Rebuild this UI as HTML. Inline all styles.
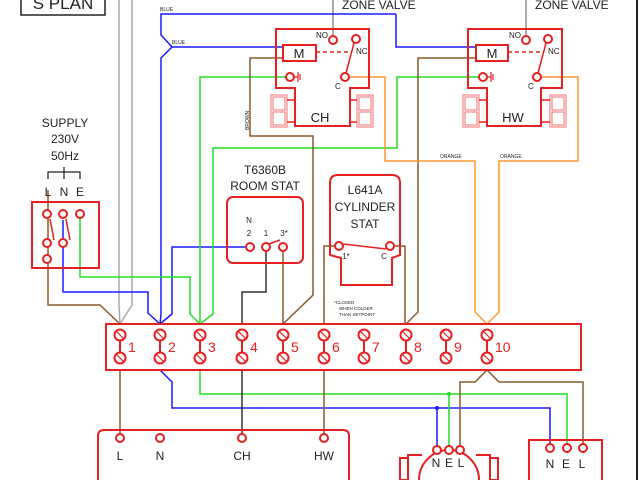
<!DOCTYPE html>
<html><head><meta charset="utf-8"><style>
html,body{margin:0;padding:0;background:#fff;width:640px;height:480px;overflow:hidden;}
svg{display:block;font-family:"Liberation Sans",Arial,sans-serif;}
</style></head><body>
<svg width="640" height="480" viewBox="0 0 640 480" xmlns="http://www.w3.org/2000/svg" overflow="hidden">
<defs>
<g id="t"><line x1="0" y1="335" x2="0" y2="358"/><circle cx="0" cy="335" r="5.5"/><circle cx="0" cy="358" r="5.5"/><line x1="-4" y1="331" x2="4" y2="339" stroke-width="1.2"/><line x1="-4" y1="354" x2="4" y2="362" stroke-width="1.2"/></g>
</defs>
<rect width="640" height="480" fill="#fff"/>
<line x1="637" y1="0" x2="637" y2="480" stroke="#222" stroke-width="2"/>
<rect x="21" y="-10" width="84" height="25" fill="none" stroke="#222" stroke-width="1.5"/>
<text x="63" y="9" font-size="17" text-anchor="middle" fill="#222">S PLAN</text>

<g fill="none" stroke-width="1.5">
<polyline points="119,0 119,305 120,324" stroke="#aaa"/>
<polyline points="132,0 132,305 120,324" stroke="#aaa"/>
<line x1="333" y1="0" x2="333" y2="36" stroke="#aaa" stroke-width="2"/>
<line x1="526" y1="0" x2="526" y2="36" stroke="#aaa" stroke-width="2"/>
<polyline points="396,14 161,14 161,35 172,47 161,58 161,314 160,324" stroke="#1a1aff"/>
<line x1="172" y1="47" x2="283" y2="47" stroke="#1a1aff"/>
<polyline points="396,14 396,47 476,47" stroke="#1a1aff"/>
<polyline points="250,247 172,247 172,314 160,324" stroke="#1a1aff"/>
<polyline points="63,220 63,292 148,292 148,313 160,324" stroke="#1a1aff"/>
<polyline points="160,370 172,382 172,408 550,408 550,444" stroke="#1a1aff"/>
<line x1="437" y1="408" x2="437" y2="446" stroke="#1a1aff"/>
<polyline points="287,77 200,77 200,324" stroke="#22dd22"/>
<polyline points="480,77 397,77 397,148 213,148 213,314 200,324" stroke="#22dd22"/>
<polyline points="80,218 80,277 190,277 190,314 200,324" stroke="#22dd22"/>
<polyline points="200,370 200,394 567,394 567,444" stroke="#22dd22"/>
<line x1="449" y1="394" x2="449" y2="446" stroke="#22dd22"/>
<polyline points="283,58 250,58 250,136 313,136 313,295 283,324" stroke="#8b5a2b"/>
<polyline points="476,58 418,58 418,312 406,324" stroke="#8b5a2b"/>
<polyline points="283,251 283,324" stroke="#8b5a2b"/>
<polyline points="338,246 324,246 324,434" stroke="#8b5a2b"/>
<polyline points="390,246 405,246 405,324" stroke="#8b5a2b"/>
<polyline points="48,190 48,305 100,305 120,324" stroke="#8b5a2b"/>
<line x1="120" y1="370" x2="120" y2="434" stroke="#8b5a2b"/>
<polyline points="487,370 475,382 460,382 460,446" stroke="#8b5a2b"/>
<polyline points="487,370 499,382 583,382 583,444" stroke="#8b5a2b"/>
<polyline points="266,251 266,292 242,292 242,434" stroke="#333"/>
<polyline points="349,77 385,77 385,161 475,161 475,312 487,324" stroke="#ff9933"/>
<polyline points="541,77 578,77 578,161 499,161 499,312 487,324" stroke="#ff9933"/>
</g>
<circle cx="437" cy="408" r="2" fill="#1a1aff"/>
<circle cx="449" cy="394" r="2" fill="#22dd22"/>
<g font-size="5" fill="#222">
<text x="160" y="11">BLUE</text><text x="172" y="44">BLUE</text>
<text x="440" y="158">ORANGE</text><text x="500" y="158">ORANGE</text>
<text x="249" y="130" transform="rotate(-90 249 130)">BROWN</text>
</g>

<g fill="none" stroke="#e62020" stroke-width="2">
<polygon points="276,29 369,29 369,88 350,88 350,126 295,126 295,88 276,88"/>
<rect x="283" y="45" width="33" height="16" fill="#fff"/>
<line x1="316" y1="52" x2="350" y2="52" stroke-dasharray="4,3" stroke-width="1.5"/>
<circle cx="333" cy="40" r="4"/><circle cx="356" cy="39" r="4"/><circle cx="345" cy="77" r="4"/>
<line x1="346" y1="73" x2="354" y2="43" stroke-width="1.5"/>
<circle cx="290" cy="77" r="4"/>
<polygon points="468,29 562,29 562,88 541,88 541,126 487,126 487,88 468,88"/>
<rect x="476" y="45" width="32" height="16" fill="#fff"/>
<line x1="508" y1="52" x2="543" y2="52" stroke-dasharray="4,3" stroke-width="1.5"/>
<circle cx="526" cy="40" r="4"/><circle cx="548" cy="39" r="4"/><circle cx="537" cy="77" r="4"/>
<line x1="538" y1="73" x2="546" y2="43" stroke-width="1.5"/>
<circle cx="483" cy="77" r="4"/>
</g>
<g stroke="#e62020" stroke-width="1.2" fill="none">
<line x1="294" y1="77" x2="298" y2="77"/><line x1="298" y1="72" x2="298" y2="82"/><line x1="300" y1="74" x2="300" y2="80"/>
<line x1="487" y1="77" x2="491" y2="77"/><line x1="491" y1="72" x2="491" y2="82"/><line x1="493" y1="74" x2="493" y2="80"/>
</g>
<g stroke="#f07070" stroke-width="1" fill="none">
<rect x="271" y="95" width="16" height="32"/><rect x="273" y="97" width="12" height="13"/><rect x="273" y="112" width="12" height="13"/>
<rect x="357" y="95" width="16" height="32"/><rect x="359" y="97" width="12" height="13"/><rect x="359" y="112" width="12" height="13"/>
<rect x="463" y="95" width="16" height="32"/><rect x="465" y="97" width="12" height="13"/><rect x="465" y="112" width="12" height="13"/>
<rect x="550" y="95" width="16" height="32"/><rect x="552" y="97" width="12" height="13"/><rect x="552" y="112" width="12" height="13"/>
</g>
<g stroke="#e62020" stroke-width="1.5"><line x1="287" y1="100" x2="295" y2="100"/><line x1="287" y1="122" x2="295" y2="122"/>
<line x1="350" y1="100" x2="357" y2="100"/><line x1="350" y1="122" x2="357" y2="122"/>
<line x1="479" y1="100" x2="487" y2="100"/><line x1="479" y1="122" x2="487" y2="122"/>
<line x1="541" y1="100" x2="550" y2="100"/><line x1="541" y1="122" x2="550" y2="122"/></g>
<g fill="#222">
<text x="299" y="58" font-size="13" text-anchor="middle">M</text>
<text x="492" y="58" font-size="13" text-anchor="middle">M</text>
<text x="320" y="122" font-size="13" text-anchor="middle">CH</text>
<text x="513" y="122" font-size="13" text-anchor="middle">HW</text>
<text x="316" y="38" font-size="8">NO</text><text x="356" y="54" font-size="8">NC</text><text x="335" y="89" font-size="8">C</text>
<text x="509" y="38" font-size="8">NO</text><text x="548" y="54" font-size="8">NC</text><text x="528" y="89" font-size="8">C</text>
<text x="342" y="9" font-size="12">ZONE VALVE</text><text x="535" y="9" font-size="12">ZONE VALVE</text>
</g>

<g fill="#222" font-size="12" text-anchor="middle">
<text x="65" y="127">SUPPLY</text><text x="65" y="143">230V</text><text x="65" y="160">50Hz</text>
<text x="48" y="196">L</text><text x="64" y="196">N</text><text x="80" y="196">E</text>
</g>
<polyline points="48,179 48,172 80,172 80,179" fill="none" stroke="#222" stroke-width="1.2"/>
<line x1="64" y1="167" x2="64" y2="179" stroke="#222" stroke-width="1.2"/>
<g fill="#fff" stroke="#e62020" stroke-width="2">
<rect x="32" y="202" width="67" height="66" fill="none"/>
<circle cx="47" cy="214" r="4"/><circle cx="63" cy="214" r="4"/><circle cx="80" cy="214" r="4"/>
<circle cx="47" cy="243" r="4"/><circle cx="63" cy="243" r="4"/><circle cx="47" cy="259" r="4"/>
</g>
<g stroke="#e62020" stroke-width="1.5"><line x1="50" y1="219" x2="54" y2="240"/><line x1="66" y1="219" x2="70" y2="240"/></g>

<g fill="#222" text-anchor="middle">
<text x="265" y="174" font-size="12">T6360B</text><text x="265" y="190" font-size="12">ROOM STAT</text>
<text x="249" y="223" font-size="8">N</text>
<text x="249" y="236" font-size="8">2</text><text x="266" y="236" font-size="8">1</text><text x="284" y="236" font-size="8">3*</text>
</g>
<rect x="227" y="197" width="76" height="66" rx="6" fill="none" stroke="#e62020" stroke-width="2"/>
<g fill="#fff" stroke="#e62020" stroke-width="2">
<circle cx="250" cy="247" r="4"/><circle cx="266" cy="247" r="4"/><circle cx="283" cy="247" r="4"/>
</g>
<line x1="269" y1="244" x2="280" y2="240" stroke="#e62020" stroke-width="1.5"/>

<path d="M330,255 L330,183 Q330,175 338,175 L392,175 Q400,175 400,183 L400,255 L392,258 L392,285 L341,285 L341,258 Z" fill="none" stroke="#e62020" stroke-width="2"/>
<g fill="#222" text-anchor="middle" font-size="12">
<text x="365" y="194">L641A</text><text x="365" y="211">CYLINDER</text><text x="365" y="228">STAT</text>
<text x="346" y="259" font-size="8">1*</text><text x="384" y="259" font-size="8">C</text>
</g>
<g fill="#fff" stroke="#e62020" stroke-width="2"><circle cx="339" cy="246" r="4"/><circle cx="390" cy="246" r="4"/></g>
<line x1="343" y1="244" x2="386" y2="249" stroke="#e62020" stroke-width="1.5"/>
<g fill="#222" font-size="4.5"><text x="334" y="304">*CLOSED</text><text x="339" y="310">WHEN COLDER</text><text x="339" y="316">THAN SETPOINT</text></g>

<rect x="106" y="324" width="475" height="46" fill="#fff" stroke="#e62020" stroke-width="2"/>
<g stroke="#e62020" stroke-width="2" fill="#fff">
<use href="#t" x="120"/><use href="#t" x="160"/><use href="#t" x="200"/><use href="#t" x="242"/><use href="#t" x="283"/>
<use href="#t" x="324"/><use href="#t" x="364"/><use href="#t" x="406"/><use href="#t" x="446"/><use href="#t" x="487"/>
</g>
<g fill="#e62020" font-size="14">
<text x="128" y="352">1</text><text x="168" y="352">2</text><text x="208" y="352">3</text><text x="250" y="352">4</text><text x="291" y="352">5</text>
<text x="332" y="352">6</text><text x="372" y="352">7</text><text x="414" y="352">8</text><text x="454" y="352">9</text><text x="495" y="352">10</text>
</g>

<path d="M98,480 L98,436 Q98,430 104,430 L343,430 Q349,430 349,436 L349,480" fill="none" stroke="#e62020" stroke-width="2"/>
<g fill="#fff" stroke="#e62020" stroke-width="2"><circle cx="120" cy="438" r="4"/><circle cx="160" cy="438" r="4"/><circle cx="242" cy="438" r="4"/><circle cx="324" cy="438" r="4"/></g>
<g fill="#222" font-size="12" text-anchor="middle"><text x="120" y="460">L</text><text x="160" y="460">N</text><text x="242" y="460">CH</text><text x="324" y="460">HW</text></g>

<g fill="none" stroke="#e62020" stroke-width="2">
<polyline points="408,480 408,455 422,455"/><polyline points="476,455 490,455 490,480"/>
<rect x="400" y="458" width="8" height="22"/><rect x="490" y="458" width="8" height="22"/>
<circle cx="449" cy="480" r="30" fill="#fff"/>
</g>
<g fill="#fff" stroke="#e62020" stroke-width="2"><circle cx="437" cy="450" r="4"/><circle cx="449" cy="450" r="4"/><circle cx="460" cy="450" r="4"/></g>
<g fill="#222" font-size="12" text-anchor="middle"><text x="436" y="467">N</text><text x="449" y="467">E</text><text x="461" y="467">L</text></g>

<rect x="529" y="440" width="73" height="42" fill="none" stroke="#e62020" stroke-width="2"/>
<g fill="#fff" stroke="#e62020" stroke-width="2"><circle cx="550" cy="448" r="4"/><circle cx="567" cy="448" r="4"/><circle cx="583" cy="448" r="4"/></g>
<g fill="#222" font-size="12" text-anchor="middle"><text x="550" y="468">N</text><text x="566" y="468">E</text><text x="582" y="468">L</text></g>
</svg>
</body></html>
